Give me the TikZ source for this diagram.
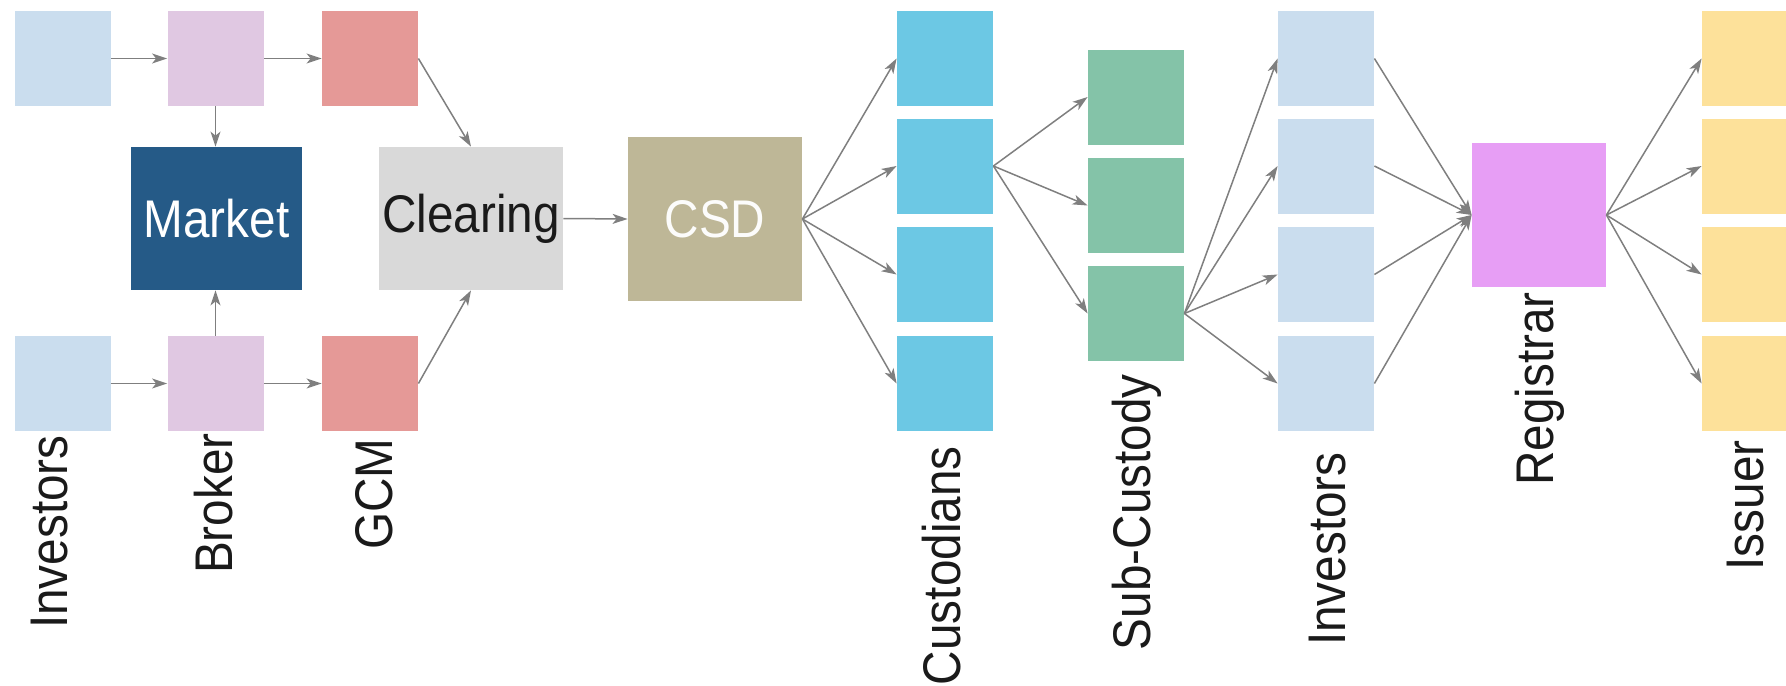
\documentclass[tikz,border=0pt]{standalone}
\usepackage{fontspec}
\setmainfont{Liberation Sans}[FakeStretch=0.9]
\usetikzlibrary{arrows.meta}
\definecolor{cInv}{HTML}{CADDEE}
\definecolor{cBrk}{HTML}{E0C8E2}
\definecolor{cGcm}{HTML}{E59997}
\definecolor{cMkt}{HTML}{255A87}
\definecolor{cClr}{HTML}{D9D9D9}
\definecolor{cCsd}{HTML}{BEB797}
\definecolor{cCus}{HTML}{6CC8E4}
\definecolor{cSub}{HTML}{84C3A8}
\definecolor{cReg}{HTML}{E79EF5}
\definecolor{cIss}{HTML}{FDE19A}
\definecolor{cArr}{HTML}{7F7F7F}
\definecolor{cTxt}{HTML}{1A1A1A}
\tikzset{
  box/.style={draw=none, inner sep=0pt, minimum width=48pt, minimum height=47.5pt},
  big/.style={draw=none, inner sep=0pt, font=\fontsize{26.5}{30}\selectfont},
  lbl/.style={rotate=90, anchor=base east, inner sep=0pt, text=cTxt,
              font=\fontsize{26.5}{30}\selectfont},
  arr/.style={draw=cArr, line width=0.75pt,
              -{Stealth[length=7.5pt, width=5pt, inset=2pt]}},
}
\begin{document}
\begin{tikzpicture}[x=0.5pt, y=-0.5pt]
\useasboundingbox (0,0) rectangle (1786,685);
\clip (0,0) rectangle (1786,685);

% trading side: investors, brokers, general clearing members
\node[box, fill=cInv] (inv1) at (62.5,58.5) {};
\node[box, fill=cBrk] (brk1) at (215.5,58.5) {};
\node[box, fill=cGcm] (gcm1) at (370,58.5) {};
\node[box, fill=cInv] (inv2) at (62.5,383.5) {};
\node[box, fill=cBrk] (brk2) at (215.5,383.5) {};
\node[box, fill=cGcm] (gcm2) at (370,383.5) {};

\node[big, fill=cMkt, text=white, minimum width=85.5pt, minimum height=71.5pt]
  (mkt) at (216.5,218.5) {Market};
\node[big, fill=cClr, text=cTxt, minimum width=92pt, minimum height=71.5pt]
  (clr) at (471,218.5) {Clearing};
\node[big, fill=cCsd, text=white!96!cCsd, minimum width=87pt, minimum height=82pt]
  (csd) at (715,219) {CSD};

% custody chain
\foreach \i/\y in {1/58.5, 2/166, 3/274.5, 4/383.5} {
  \node[box, fill=cCus] (cus\i) at (945,\y) {};
  \node[box, fill=cInv] (invr\i) at (1326,\y) {};
  \node[box, fill=cIss] (iss\i) at (1750,\y) {};
}
\foreach \i/\y in {1/97, 2/205.5, 3/313.5} {
  \node[box, fill=cSub] (sub\i) at (1136,\y) {};
}
\node[box, fill=cReg, minimum width=67pt, minimum height=72pt] (reg) at (1539,215) {};

% connectors
\draw[arr] (inv1.east) -- (brk1.west);
\draw[arr] (brk1.east) -- (gcm1.west);
\draw[arr] (inv2.east) -- (brk2.west);
\draw[arr] (brk2.east) -- (gcm2.west);
\draw[arr] (brk1.south) -- (mkt.north -| brk1.south);
\draw[arr] (brk2.north) -- (mkt.south -| brk2.north);
\draw[arr] (gcm1.east) -- (clr.north);
\draw[arr] (gcm2.east) -- (clr.south);
\draw[arr] (clr.east) -- (csd.west);
\foreach \i in {1,...,4} {
  \draw[arr] (csd.east) -- (cus\i.west);
  \draw[arr] (sub3.east) -- (invr\i.west);
  \draw[arr] (invr\i.east) -- (reg.west);
  \draw[arr] (reg.east) -- (iss\i.west);
}
\foreach \i in {1,2,3} {
  \draw[arr] (cus2.east) -- (sub\i.west);
}

% column labels
\node[lbl] (tInv)  at (67,435)   {Investors};
\node[lbl] (tBrk)  at (232,433)  {Broker};
\node[lbl] (tGcm)  at (392,438)  {GCM};
\node[lbl] (tCus)  at (960,446)  {Custodians};
\node[lbl] (tSub)  at (1150,374) {Sub-Custody};
\node[lbl] (tInvr) at (1345,452) {Investors};
\node[lbl] (tReg)  at (1553,292) {Registrar};
\node[lbl] (tIss)  at (1763,440) {Issuer};
\end{tikzpicture}
\end{document}
